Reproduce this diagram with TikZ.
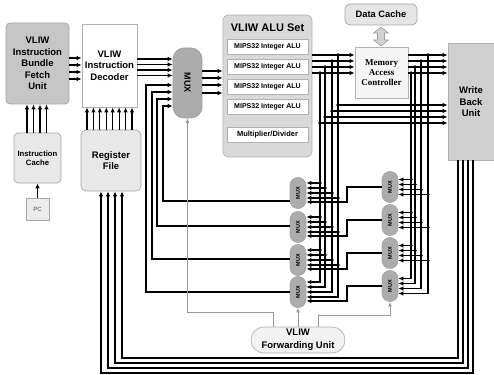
\documentclass[tikz,border=0pt]{standalone}
\usepackage{fontspec}
\setmainfont{Liberation Sans}
\newfontfamily\serifbf{Liberation Serif}
\usetikzlibrary{arrows.meta,calc}
\begin{document}
\begin{tikzpicture}[x=1pt,y=-1pt,
  wire/.style={line width=1.1pt},
  arr/.style={wire,-{Latex[length=5pt,width=4.4pt]}},
  gwire/.style={line width=0.9pt,draw=gray!80},
  garr/.style={gwire,-{Latex[length=4.5pt,width=4pt]}},
  blk/.style={draw=gray!70,line width=0.7pt,inner sep=1pt,align=center,font=\fontsize{9.5}{11.5}\selectfont\bfseries},
  smux/.style={blk,fill=gray!65,minimum width=16pt,minimum height=31pt,rounded corners=7.9pt,font=\fontsize{5.5}{6}\selectfont\bfseries},
  alurow/.style={blk,fill=white,draw=gray!60,minimum width=81pt,minimum height=15pt,font=\fontsize{7}{8}\selectfont\bfseries},
]
\useasboundingbox (0,0) rectangle (494,374);

% blocks
\node[blk,fill=gray!45,rounded corners=4pt,minimum width=63pt,minimum height=81pt] (fetch) at (37.5,63.5) {VLIW\\Instruction\\Bundle\\Fetch\\Unit};
\node[blk,fill=white,draw=gray!60,minimum width=55pt,minimum height=83pt] (dec) at (109.5,65.5) {VLIW\\Instruction\\Decoder};
\node[blk,fill=gray!18,rounded corners=4pt,minimum width=47pt,minimum height=50pt,font=\fontsize{7.7}{9}\selectfont\bfseries] (icache) at (37.5,158) {Instruction\\Cache};
\node[blk,fill=gray!15,minimum width=23pt,minimum height=22pt,font=\fontsize{6}{7}\selectfont,text=gray!60!black] (pc) at (37.5,209) {PC};
\node[blk,fill=gray!18,rounded corners=5pt,minimum width=60pt,minimum height=61pt] (rf) at (111,160.5) {Register\\File};
\node[blk,fill=gray!65,draw=gray!75,rounded corners=11pt,minimum width=29pt,minimum height=70pt,font=\fontsize{9}{10}\selectfont\bfseries] (bigmux) at (187.5,83) {\rotatebox{-90}{MUX}};
\node[blk,fill=gray!30,draw=gray!60,rounded corners=5pt,minimum width=89pt,minimum height=142pt] (aluset) at (267.5,86) {};
\node[font=\fontsize{11}{13}\selectfont\bfseries] (alutitle) at (267.5,28) {VLIW ALU Set};
\node[alurow] (alu1) at (267.5,46.5) {MIPS32 Integer ALU};
\node[alurow] (alu2) at (267.5,66.5) {MIPS32 Integer ALU};
\node[alurow] (alu3) at (267.5,86.5) {MIPS32 Integer ALU};
\node[alurow] (alu4) at (267.5,106.5) {MIPS32 Integer ALU};
\node[alurow,font=\fontsize{7.5}{8}\selectfont\bfseries] (mult) at (267.5,134.5) {Multiplier/Divider};
\node[blk,fill=gray!20,rounded corners=5pt,minimum width=72pt,minimum height=21pt,font=\fontsize{9.3}{11}\selectfont\bfseries] (dc) at (381,14.5) {Data Cache};
\node[blk,fill=gray!8,draw=gray!60,minimum width=53pt,minimum height=51pt,font={\fontsize{9}{10}\selectfont\serifbf\bfseries}] (mac) at (381.5,72.5) {Memory\\Access\\Controller};
\node[blk,fill=gray!38,draw=gray!60,minimum width=50pt,minimum height=117pt] (wb) at (473,101.5) {};
\node[font=\fontsize{9.5}{11.5}\selectfont\bfseries,align=center] (wbtext) at (471,102) {Write\\Back\\Unit};
\node[blk,fill=gray!10,draw=gray!60,rounded corners=13pt,minimum width=94pt,minimum height=26pt,font=\fontsize{9.5}{13}\selectfont\bfseries] (fwd) at (298,340) {VLIW\\Forwarding Unit};
\foreach \n/\y in {1/193,2/227,3/260,4/292} \node[smux] (lm\n) at (298,\y) {\rotatebox{90}{MUX}};
\foreach \n/\y in {1/187,2/220,3/253,4/286} \node[smux] (rm\n) at (390,\y) {\rotatebox{90}{MUX}};

% data cache <-> memory access controller
\filldraw[fill=gray!35,draw=gray!75,line width=0.6pt] (381,27) -- (388.5,33) -- (384.5,33) -- (384.5,40) -- (388.5,40) -- (381,46) -- (373.5,40) -- (377.5,40) -- (377.5,33) -- (373.5,33) -- cycle;

% front end
\foreach \y in {58,65,72,79} \draw[arr] (fetch.east |- 0,\y) -- (dec.west |- 0,\y);
\foreach \x in {27,33.5,40,46.5} \draw[arr] (icache.north -| \x,0) -- (fetch.south -| \x,0);
\draw[arr,line width=0.8pt] (pc) -- (icache);
\foreach \x in {87,93.4,99.9,106.3,112.7,119.1,125.6,132} \draw[arr] (rf.north -| \x,0) -- (dec.south -| \x,0);
\foreach \y in {59,64.5,70,75.5} \draw[arr] (dec.east |- 0,\y) -- (bigmux.west |- 0,\y);

% left mux outputs back to big mux
\draw[arr] (lm1.west |- 0,201) -| (163,106) -- (bigmux.west |- 0,106);
\draw[arr] (lm2.west |- 0,226) -| (157,99) -- (bigmux.west |- 0,99);
\draw[arr] (lm3.west |- 0,259) -| (152,92) -- (bigmux.west |- 0,92);
\draw[arr] (lm4.west) -| (146,85) -- (bigmux.west |- 0,85);

% big mux to ALUs
\foreach \y in {71,78,85,93} \draw[arr] (bigmux.east |- 0,\y) -- (aluset.west |- 0,\y);

% ALU outputs
\foreach \y in {55,61,67,73} \draw[arr] (aluset.east |- 0,\y) -- (mac.west |- 0,\y);
\draw[arr] (320,73) |- (lm4.east |- 0,282);
\draw[arr] (325,67) |- (lm4.east |- 0,287);
\draw[arr] (332,61) |- (lm4.east |- 0,292);
\draw[arr] (338,55) |- (lm4.east |- 0,297);
\foreach \x/\y in {320/73,325/67,332/61,338/55} \fill (\x,\y) circle (1.8pt);
\foreach \x/\y in {338/105,332/111,325/117,320/123} {
  \fill (\x,\y) circle (1.8pt);
  \draw[arr] (\x,\y) -- (wb.west |- 0,\y);
}
\foreach \n/\c in {1/193,2/227,3/260} {
  \foreach \x/\o in {320/-10,325/-5,332/0,338/5} {
    \pgfmathsetmacro\yy{\c+\o}
    \fill (\x,\yy) circle (1.8pt);
    \draw[arr] (\x,\yy) -- (lm\n.east |- 0,\yy);
  }
}

% MAC outputs
\foreach \y in {55,61,67,73} \draw[arr] (mac.east |- 0,\y) -- (wb.west |- 0,\y);
\draw[arr] (411,73) |- (rm4.east |- 0,278.5);
\draw[arr] (415,67) |- (rm4.east |- 0,283.5);
\draw[arr] (421,61) |- (rm4.east |- 0,288.5);
\draw[arr] (428,55) |- (rm4.east |- 0,293.5);
\foreach \x/\y in {411/73,415/67,421/61,428/55} \fill (\x,\y) circle (1.8pt);
\foreach \n/\c in {1/187,2/220,3/253} {
  \foreach \x/\o in {411/-7.5,415/-2.5,421/2.5,428/7.5} {
    \pgfmathsetmacro\yy{\c+\o}
    \fill (\x,\yy) circle (1.8pt);
    \draw[arr] (\x,\yy) -- (rm\n.east |- 0,\yy);
  }
}

% right mux outputs to left muxes
\draw[arr] (rm1.west) -| (347,202) -- (lm1.east |- 0,202);
\draw[arr] (rm2.west) -| (347,236) -- (lm2.east |- 0,236);
\draw[arr] (rm3.west) -| (347,269) -- (lm3.east |- 0,269);
\draw[arr] (rm4.west) -| (347,301) -- (lm4.east |- 0,301);

% write back to register file
\draw[arr] (wb.south -| 458,0) |- (122,358) -- (rf.south -| 122,0);
\draw[arr] (wb.south -| 463,0) |- (115,363) -- (rf.south -| 115,0);
\draw[arr] (wb.south -| 468,0) |- (108,368) -- (rf.south -| 108,0);
\draw[arr] (wb.south -| 473,0) |- (101,373) -- (rf.south -| 101,0);

% forwarding unit controls
\draw[garr] (fwd.north -| 273,0) |- (187.5,312) -- (bigmux.south);
\draw[garr] (fwd.north -| lm4.south) -- (lm4.south);
\draw[garr] (fwd.north -| 318,0) |- (rm4.south |- 0,315) -- (rm4.south);
\end{tikzpicture}
\end{document}
